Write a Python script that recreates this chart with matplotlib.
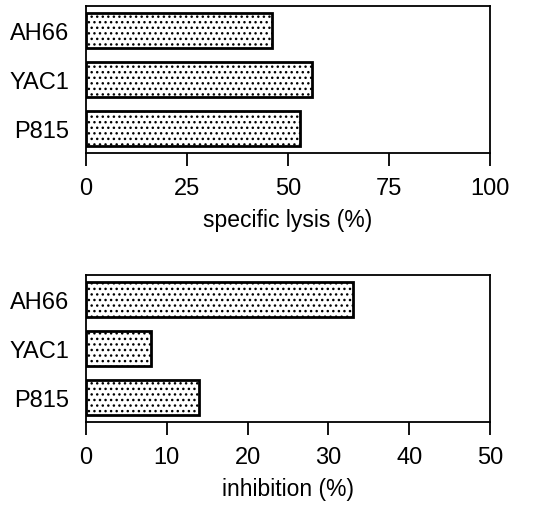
import matplotlib
matplotlib.use("Agg")
import matplotlib.pyplot as plt

plt.rcParams['font.family'] = ['Liberation Sans', 'DejaVu Sans']
plt.rcParams['hatch.linewidth'] = 1.0

cells = ['AH66', 'YAC1', 'P815']
lysis = [46, 56, 53]
inhibition = [33, 8, 14]

lysis_ticks = [0, 25, 50, 75, 100]
inhib_ticks = [0, 10, 20, 30, 40, 50]

W, H = 558, 506
fig = plt.figure(figsize=(W / 100, H / 100), dpi=100)

# axes boxes measured in pixels: left, top, right, bottom
boxes = [(86, 7, 490, 154), (86, 276, 490, 423)]
panels = [
    (lysis, lysis_ticks, 'specific lysis (%)'),
    (inhibition, inhib_ticks, 'inhibition (%)'),
]

for (l, t, r, b), (vals, ticks, label) in zip(boxes, panels):
    ax = fig.add_axes([l / W, 1 - b / H, (r - l) / W, (b - t) / H])
    y = list(range(len(cells)))
    ax.barh(y, vals, height=0.71, color='white', edgecolor='black',
            linewidth=2.0, hatch='...')
    ax.set_ylim(2.5, -0.5)
    ax.set_xlim(ticks[0], ticks[-1])
    ax.set_yticks(y)
    ax.set_yticklabels(cells, fontsize=17)
    ax.set_xticks(ticks)
    ax.set_xticklabels([str(v) for v in ticks], fontsize=17)
    ax.tick_params(axis='y', length=0, pad=12)
    ax.tick_params(axis='x', direction='out', length=9.5, width=1.3, pad=8)
    ax.set_xlabel(label, fontsize=16.5, labelpad=6)
    for s in ax.spines.values():
        s.set_linewidth(1.3)

fig.savefig('out.png', dpi=100, facecolor='white')
